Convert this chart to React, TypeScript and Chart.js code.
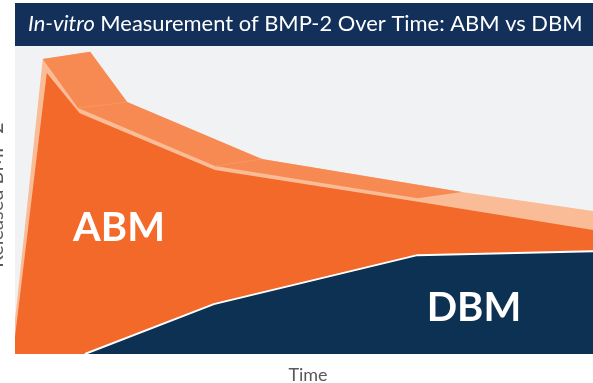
import React, { useEffect, useRef } from "react";
import { Chart, registerables } from "chart.js";

Chart.register(...registerables);

// ---- Text ----
const TITLE_ITALIC = "In-vitro";
const TITLE_REST = " Measurement of BMP-2 Over Time: ABM vs DBM";
const X_LABEL = "Time";
const Y_LABEL = "Released BMP-2";
const SERIES_LABELS = ["ABM", "DBM"];
// label anchor positions in data units [x, y]
const ABM_LABEL_POS = [18.0, 41.0];
const DBM_LABEL_POS = [79.4, 15.0];

// ---- Data (time 0..100, released amount 0..100) ----
// ABM front face (top edge)
const abmX = [0, 5.5, 11.2, 34.6, 69.7, 100];
const abmY = [5.5, 91.2, 78.2, 59.7, 49.4, 40.3];
// ABM highlight (pale) outer edge
const abmHiX = [0, 4.8, 13.0, 19.4, 42.7, 77.3, 100];
const abmHiY = [11.0, 95.8, 98.1, 81.8, 63.3, 52.6, 46.4];
// ABM top face: lower edge
const faceLowX = [4.8, 10.9, 34.6, 69.7, 77.3];
const faceLowY = [95.8, 79.9, 61.0, 50.6, 52.6];
// ABM top face: upper edge
const faceUpX = [4.8, 13.0, 19.4, 42.7, 77.3];
const faceUpY = [95.8, 98.1, 81.8, 63.3, 52.6];
// ABM top face seams
const seam1X = [10.9, 19.4];
const seam1Y = [79.9, 81.8];
const seam2X = [34.6, 42.7];
const seam2Y = [61.0, 63.3];
// DBM
const dbmX = [12.1, 34.4, 69.6, 100];
const dbmY = [0, 16.2, 32.1, 33.4];

const NAVY_TITLE = "#12305a";
const NAVY = "#0c3152";
const ORANGE = "#f2692a";
const ORANGE_MID = "#f68a52";
const ORANGE_SEAM = "#f89762";
const ORANGE_PALE = "#fabc96";
const PLOT_BG = "#f1f2f4";
const FONT = "Lato, 'Open Sans', sans-serif";

const pts = (xs: number[], ys: number[]) => xs.map((x, i) => ({ x, y: ys[i] }));

const decor = {
  id: "decor",
  beforeDraw(chart: any) {
    const { ctx, chartArea: a } = chart;
    ctx.save();
    ctx.fillStyle = PLOT_BG;
    ctx.fillRect(a.left, a.top, a.right - a.left, a.bottom - a.top);
    // title bar
    ctx.fillStyle = NAVY_TITLE;
    ctx.fillRect(a.left, 3, a.right - a.left, a.top - 3);
    // title text, fitted to width
    const target = 555;
    let size = 20;
    ctx.font = `italic ${size}px ${FONT}`;
    const w1 = ctx.measureText(TITLE_ITALIC).width;
    ctx.font = `${size}px ${FONT}`;
    const w2 = ctx.measureText(TITLE_REST).width;
    size = (size * target) / (w1 + w2);
    ctx.fillStyle = "#ffffff";
    ctx.textBaseline = "alphabetic";
    ctx.textAlign = "left";
    ctx.font = `italic ${size}px ${FONT}`;
    const x0 = 28;
    ctx.fillText(TITLE_ITALIC, x0, 31);
    const iw = ctx.measureText(TITLE_ITALIC).width;
    ctx.font = `${size}px ${FONT}`;
    ctx.fillText(TITLE_REST, x0 + iw, 31);
    ctx.restore();
  },
  afterDatasetsDraw(chart: any) {
    const { ctx } = chart;
    const xs = chart.scales.x;
    const ys = chart.scales.y;
    ctx.save();
    ctx.fillStyle = "#ffffff";
    ctx.textAlign = "center";
    ctx.textBaseline = "middle";
    ctx.font = `bold 40px ${FONT}`;
    ctx.fillText(
      SERIES_LABELS[0],
      xs.getPixelForValue(ABM_LABEL_POS[0]),
      ys.getPixelForValue(ABM_LABEL_POS[1])
    );
    ctx.fillText(
      SERIES_LABELS[1],
      xs.getPixelForValue(DBM_LABEL_POS[0]),
      ys.getPixelForValue(DBM_LABEL_POS[1])
    );
    ctx.restore();
  },
  afterDraw(chart: any) {
    const { ctx, chartArea: a } = chart;
    ctx.save();
    ctx.fillStyle = "#595959";
    ctx.font = `18px ${FONT}`;
    ctx.textAlign = "center";
    ctx.textBaseline = "alphabetic";
    ctx.fillText(X_LABEL, (a.left + a.right) / 2 + 4, 381);
    ctx.font = `20px ${FONT}`;
    ctx.translate(2.5, 195);
    ctx.rotate(-Math.PI / 2);
    ctx.fillText(Y_LABEL, 0, 0);
    ctx.restore();
  },
};

export default function App() {
  const ref = useRef<HTMLCanvasElement>(null);
  useEffect(() => {
    const noLine = { borderWidth: 0, borderColor: "rgba(0,0,0,0)", pointRadius: 0, showLine: true, tension: 0 };
    const seam = { pointRadius: 0, showLine: true, tension: 0, borderWidth: 1, borderColor: ORANGE_SEAM, fill: false };
    const chart = new Chart(ref.current as HTMLCanvasElement, {
      type: "scatter",
      data: {
        datasets: [
          {
            label: "DBM",
            data: pts(dbmX, dbmY),
            showLine: true,
            pointRadius: 0,
            tension: 0,
            borderColor: "#ffffff",
            borderWidth: 2,
            backgroundColor: NAVY,
            fill: "start",
          },
          {
            ...noLine,
            label: "ABM",
            data: pts(abmX, abmY),
            backgroundColor: ORANGE,
            fill: "start",
          },
          { ...seam, label: "seam 1", data: pts(seam1X, seam1Y) },
          { ...seam, label: "seam 2", data: pts(seam2X, seam2Y) },
          {
            ...noLine,
            label: "ABM top face",
            data: pts(faceLowX, faceLowY),
            backgroundColor: ORANGE_MID,
            fill: { target: 5, above: ORANGE_MID, below: ORANGE_MID },
          },
          {
            ...noLine,
            label: "ABM top face edge",
            data: pts(faceUpX, faceUpY),
            backgroundColor: ORANGE_MID,
            fill: false,
          },
          {
            ...noLine,
            label: "ABM highlight",
            data: pts(abmHiX, abmHiY),
            backgroundColor: ORANGE_PALE,
            fill: "start",
          },
        ] as any,
      },
      options: {
        responsive: false,
        animation: false,
        devicePixelRatio: 1,
        layout: { padding: { left: 15, right: 0, top: 46, bottom: 29 } },
        plugins: {
          legend: { display: false },
          tooltip: { enabled: false },
          title: { display: false },
        },
        scales: {
          x: { type: "linear", min: 0, max: 100, display: false },
          y: { type: "linear", min: 0, max: 100, display: false },
        },
      } as any,
      plugins: [decor],
    });
    return () => chart.destroy();
  }, []);
  return (
    <div style={{ position: "fixed", left: 0, top: 0, width: 593, height: 383, background: "#ffffff" }}>
      <canvas ref={ref} width={593} height={383} style={{ display: "block", width: 593, height: 383 }} />
    </div>
  );
}
